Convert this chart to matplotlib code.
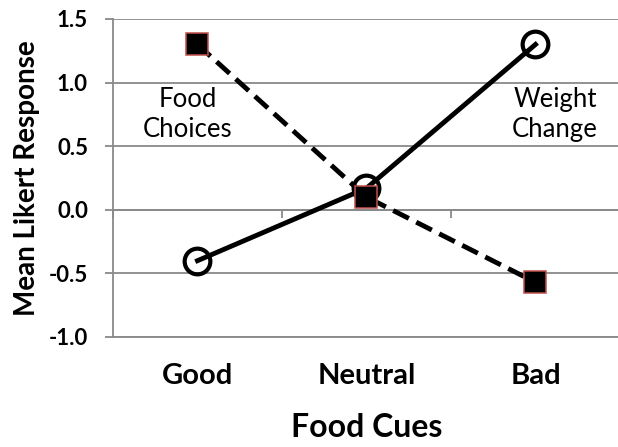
import matplotlib
matplotlib.use("Agg")
import matplotlib.pyplot as plt

# categories on the x axis
cues = ['Good', 'Neutral', 'Bad']

# mean Likert responses per series
weight_change = [-0.4, 0.17, 1.3]
food_choices = [1.3, 0.1, -0.57]

y_ticks = [-1.0, -0.5, 0.0, 0.5, 1.0, 1.5]

plt.rcParams['font.family'] = ['Lato', 'DejaVu Sans']

fig = plt.figure(figsize=(6.18, 4.47), dpi=100)
ax = fig.add_axes([113 / 618, 1 - 337 / 447, 507 / 618, 318 / 447])

grid_col = '#898989'
x = range(len(cues))

# solid line with open circles
ax.plot(x, weight_change, color='black', lw=3.5, marker='o', ms=18.5,
        mfc='none', mec='black', mew=3.0, zorder=3)
# dashed line with filled squares
ax.plot(x, food_choices, color='black', lw=3.5, ls=(0, (3.6, 1.7)), marker='s', ms=15.5,
        mfc='black', mec='#c0504d', mew=1.1, zorder=4)

ax.text(-0.06, 0.75, 'Food\nChoices', ha='center', va='center', fontsize=18.5, linespacing=1.25)
ax.text(2.115, 0.75, 'Weight\nChange', ha='center', va='center', fontsize=18.5, linespacing=1.25)

ax.set_xlim(-0.5, 2.5)
ax.set_ylim(-1.0, 1.5)
ax.set_yticks(y_ticks)
ax.set_yticklabels([f'{v:.1f}' for v in y_ticks])
ax.set_xticks(list(x))
ax.set_xticklabels(cues)

ax.grid(axis='y', color=grid_col, lw=1.3)
ax.set_axisbelow(True)
for side in ['top', 'right']:
    ax.spines[side].set_visible(False)
ax.spines['left'].set_color(grid_col)
ax.spines['left'].set_linewidth(1.3)
ax.spines['bottom'].set_color(grid_col)
ax.spines['bottom'].set_linewidth(1.3)

ax.tick_params(axis='y', length=6, width=1.3, color=grid_col, pad=12, labelsize=16)
ax.tick_params(axis='x', length=0, pad=19, labelsize=21)
for lab in ax.get_xticklabels() + ax.get_yticklabels():
    lab.set_fontweight('bold')

# category axis crossing at zero, with tick marks between categories
sec = ax.secondary_xaxis(1.0 / 2.5)
sec.set_xticks([-0.5, 0.5, 1.5, 2.5])
sec.tick_params(axis='x', direction='out', length=6, width=1.3, color=grid_col,
                labelbottom=False, labeltop=False)
sec.spines['bottom'].set_color(grid_col)
sec.spines['bottom'].set_linewidth(1.3)
sec.xaxis.set_ticks_position('bottom')
sec.set_xticklabels([])

ax.set_xlabel('Food Cues', fontsize=23, fontweight='bold', labelpad=17)
ax.set_ylabel('Mean Likert Response', fontsize=20, fontweight='bold', labelpad=6)

fig.savefig('out.png', dpi=100)
